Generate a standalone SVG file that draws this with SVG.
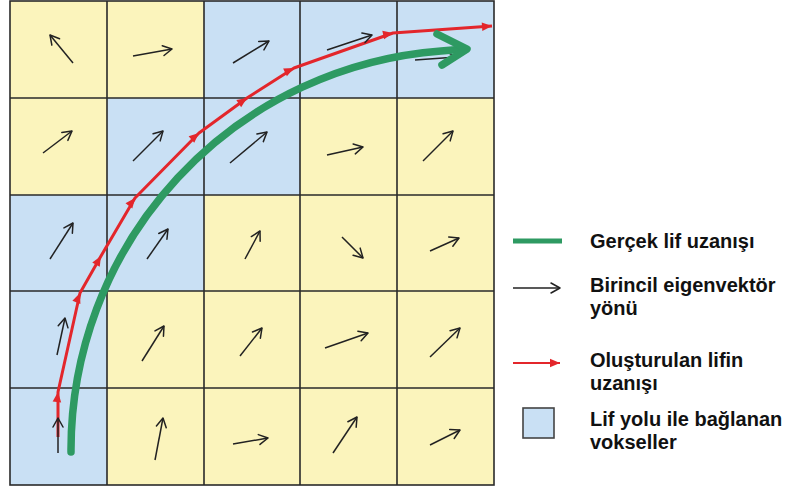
<svg xmlns="http://www.w3.org/2000/svg" width="791" height="488" viewBox="0 0 791 488">
<style>
.y{fill:#FBF4BC}
.b{fill:#C9E0F4}
.grid{stroke:#2a2a2a;stroke-width:1.6;fill:none}
.vec{stroke:#222;stroke-width:1.5;fill:none;marker-end:url(#chev)}
.red{stroke:#E3262B;stroke-width:3;fill:none;stroke-linejoin:round}
.green{stroke:#2E9A62;stroke-width:7.5;fill:none;stroke-linecap:round;stroke-linejoin:round}
.lbl{font-family:"Liberation Sans",Arial,sans-serif;font-weight:bold;font-size:20px;fill:#111}
</style>
<defs>
<marker id="chev" viewBox="-11 -7 13 14" refX="0" refY="0" markerWidth="13" markerHeight="14" markerUnits="userSpaceOnUse" orient="auto">
<path d="M-9,-5 L0,0 L-9,5" fill="none" stroke="#222" stroke-width="1.5" stroke-linecap="round" stroke-linejoin="round"/>
</marker>
<marker id="rh" viewBox="-11 -6 13 12" refX="0" refY="0" markerWidth="13" markerHeight="12" markerUnits="userSpaceOnUse" orient="auto">
<path d="M-10,-4.3 L0,0 L-10,4.3 Z" fill="#E3262B"/>
</marker>
</defs>
<rect width="791" height="488" fill="#fff"/>
<g id="cells">
<rect class="y" x="10" y="1" width="97" height="97"/>
<rect class="y" x="107" y="1" width="97" height="97"/>
<rect class="b" x="204" y="1" width="96" height="97"/>
<rect class="b" x="300" y="1" width="97" height="97"/>
<rect class="b" x="397" y="1" width="97" height="97"/>
<rect class="y" x="10" y="98" width="97" height="97"/>
<rect class="b" x="107" y="98" width="97" height="97"/>
<rect class="b" x="204" y="98" width="96" height="97"/>
<rect class="y" x="300" y="98" width="97" height="97"/>
<rect class="y" x="397" y="98" width="97" height="97"/>
<rect class="b" x="10" y="195" width="97" height="96"/>
<rect class="b" x="107" y="195" width="97" height="96"/>
<rect class="y" x="204" y="195" width="96" height="96"/>
<rect class="y" x="300" y="195" width="97" height="96"/>
<rect class="y" x="397" y="195" width="97" height="96"/>
<rect class="b" x="10" y="291" width="97" height="97"/>
<rect class="y" x="107" y="291" width="97" height="97"/>
<rect class="y" x="204" y="291" width="96" height="97"/>
<rect class="y" x="300" y="291" width="97" height="97"/>
<rect class="y" x="397" y="291" width="97" height="97"/>
<rect class="b" x="10" y="388" width="97" height="97"/>
<rect class="y" x="107" y="388" width="97" height="97"/>
<rect class="y" x="204" y="388" width="96" height="97"/>
<rect class="y" x="300" y="388" width="97" height="97"/>
<rect class="y" x="397" y="388" width="97" height="97"/>
</g>
<g id="gridlines" class="grid">
<rect x="10" y="1" width="484" height="484"/>
<path d="M107,1V485M204,1V485M300,1V485M397,1V485M10,98H494M10,195H494M10,291H494M10,388H494"/>
</g>
<g id="connectors">
<polyline class="red" points="58,437 58,392 80,293 101,256 135,198 199,133 247,98 294,68 393,33 492,26" marker-mid="url(#rh)" marker-end="url(#rh)"/>
<g id="vectors">
<line class="vec" x1="73" y1="63" x2="50" y2="35"/>
<line class="vec" x1="133" y1="56" x2="172" y2="49"/>
<line class="vec" x1="233" y1="63" x2="269" y2="41"/>
<line class="vec" x1="327" y1="50" x2="372" y2="35"/>
<line class="vec" x1="415" y1="60" x2="457" y2="57"/>
<line class="vec" x1="43" y1="153" x2="72" y2="131"/>
<line class="vec" x1="133" y1="161" x2="163" y2="131"/>
<line class="vec" x1="230" y1="163" x2="267" y2="132"/>
<line class="vec" x1="327" y1="155" x2="363" y2="147"/>
<line class="vec" x1="423" y1="161" x2="453" y2="131"/>
<line class="vec" x1="50" y1="259" x2="73" y2="223"/>
<line class="vec" x1="147" y1="259" x2="168" y2="229"/>
<line class="vec" x1="245" y1="259" x2="260" y2="231"/>
<line class="vec" x1="342" y1="237" x2="363" y2="258"/>
<line class="vec" x1="430" y1="251" x2="459" y2="238"/>
<line class="vec" x1="57" y1="355" x2="65" y2="318"/>
<line class="vec" x1="142" y1="361" x2="164" y2="326"/>
<line class="vec" x1="240" y1="356" x2="262" y2="328"/>
<line class="vec" x1="325" y1="348" x2="368" y2="333"/>
<line class="vec" x1="430" y1="357" x2="460" y2="328"/>
<line class="vec" x1="58" y1="453" x2="58" y2="418"/>
<line class="vec" x1="155" y1="460" x2="163" y2="418"/>
<line class="vec" x1="233" y1="444" x2="268" y2="438"/>
<line class="vec" x1="333" y1="453" x2="357" y2="417"/>
<line class="vec" x1="430" y1="445" x2="460" y2="430"/>
</g>
<path class="green" d="M71,452 L71,450 A400,400 0 0 1 441,51 L464,49"/>
<polyline class="green" points="437,34 467,49 442,65" stroke-width="9"/>
</g>
<g id="legend-green">
<line x1="513" y1="241" x2="562" y2="241" stroke="#2E9A62" stroke-width="5"/>
<text class="lbl" x="590" y="248">Gerçek lif uzanışı</text>
</g>
<g id="legend-black">
<line class="vec" x1="513" y1="288" x2="560" y2="288"/>
<text class="lbl" x="590" y="292">Birincil eigenvektör</text>
<text class="lbl" x="590" y="315">yönü</text>
</g>
<g id="legend-red">
<line x1="513" y1="363" x2="560" y2="363" stroke="#E3262B" stroke-width="1.8" marker-end="url(#rh)"/>
<text class="lbl" x="590" y="367">Oluşturulan lifin</text>
<text class="lbl" x="590" y="390">uzanışı</text>
</g>
<g id="legend-blue">
<rect x="523" y="408" width="31" height="30" fill="#C9E0F4" stroke="#444" stroke-width="1.6"/>
<text class="lbl" x="590" y="426">Lif yolu ile bağlanan</text>
<text class="lbl" x="590" y="449">vokseller</text>
</g>
</svg>
